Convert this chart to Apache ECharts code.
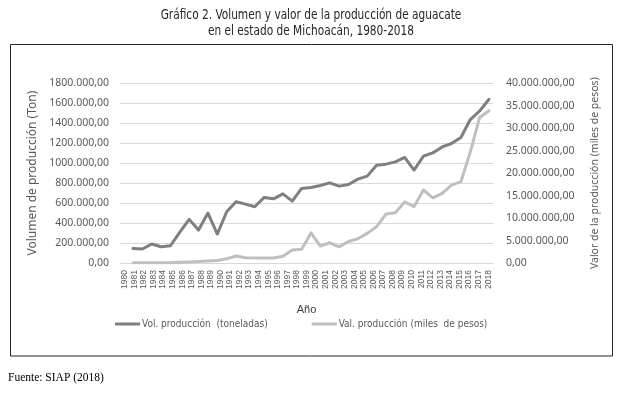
<!DOCTYPE html>
<html><head><meta charset="utf-8">
<script src="https://cdn.jsdelivr.net/npm/echarts@6/dist/echarts.min.js"></script>
<style>html,body{margin:0;padding:0;background:#fff}#c{width:622px;height:393px}</style>
</head><body><div id="c"></div>
<script>
const years = ['1980','1981','1982','1983','1984','1985','1986','1987','1988','1989','1990','1991','1992','1993','1994','1995','1996','1997','1998','1999','2000','2001','2002','2003','2004','2005','2006','2007','2008','2009','2010','2011','2012','2013','2014','2015','2016','2017','2018'];
const volumen = [145000,140000,190000,163000,173000,310000,437000,330000,500000,290000,513000,613000,590000,563000,657000,643000,693000,620000,747000,757000,777000,803000,770000,787000,840000,870000,980000,990000,1013000,1057000,930000,1070000,1103000,1163000,1197000,1257000,1437000,1523000,1640000];
const valor = [40000,40000,50000,60000,80000,150000,250000,350000,450000,550000,950000,1550000,1150000,1100000,1100000,1100000,1500000,2900000,3050000,6700000,3750000,4500000,3600000,4800000,5400000,6600000,8100000,10900000,11200000,13600000,12550000,16250000,14500000,15500000,17350000,18100000,24700000,32400000,33900000];
const leftTicks = ['0,00','200.000,00','400.000,00','600.000,00','800.000,00','1000.000,00','1200.000,00','1400.000,00','1600.000,00','1800.000,00'];
const rightTicks = ['0,00','5.000.000,00','10.000.000,00','15.000.000,00','20.000.000,00','25.000.000,00','30.000.000,00','35.000.000,00','40.000.000,00'];
const seriesNames = ['Vol. producción  (toneladas)','Val. producción (miles  de pesos)'];
const titleLines = ['Gráfico 2. Volumen y valor de la producción de aguacate','en el estado de Michoacán, 1980-2018'];
const source = 'Fuente: SIAP (2018)';

const narrow = "'DejaVu Sans Condensed',sans-serif";
const chart = echarts.init(document.getElementById('c'), null, {renderer:'canvas'});
const leftInt = 200000, rightInt = 5000000;
chart.setOption({
  animation:false,
  backgroundColor:'#fff',
  graphic:[
    {type:'rect', shape:{x:10.5,y:44.5,width:602,height:311.5}, style:{fill:'none',stroke:'#262626',lineWidth:1}, z:0},
    {type:'text', x:311, y:15.5, scaleX:0.84, style:{text:titleLines[0], font:"14px "+narrow, fill:'#262626', textAlign:'center', textVerticalAlign:'middle'}},
    {type:'text', x:311, y:31.5, scaleX:0.84, style:{text:titleLines[1], font:"14px "+narrow, fill:'#262626', textAlign:'center', textVerticalAlign:'middle'}},
    {type:'text', x:8, y:378, style:{text:source, font:"11.5px 'Liberation Serif',serif", fill:'#000', textVerticalAlign:'middle'}}
  ],
  legend:{
    left:115, top:319, padding:0, itemWidth:25, itemHeight:3, itemGap:44, icon:'rect',
    textStyle:{fontFamily:narrow, fontSize:10, color:'#595959', padding:[0,0,0,-3]},
    data:seriesNames
  },
  grid:[
    {left:120, right:129, top:83.3, bottom:130},
    {left:128.3, right:128.3, top:83.3, bottom:130}
  ],
  xAxis:[
    {type:'category', gridIndex:0, data:years, boundaryGap:true,
     axisLine:{show:true, lineStyle:{color:'#d9d9d9'}}, axisTick:{show:false},
     axisLabel:{interval:0, rotate:90, fontSize:8.5, fontFamily:"'Liberation Sans',sans-serif", color:'#595959', margin:7},
     name:'Año', nameLocation:'middle', nameGap:41, nameTextStyle:{fontSize:11, fontFamily:"'Liberation Sans',sans-serif", color:'#404040'}},
    {type:'category', gridIndex:1, data:years, boundaryGap:true, show:false}
  ],
  yAxis:[
    {type:'value', gridIndex:0, position:'left', min:0, max:1800000, interval:leftInt,
     axisLine:{show:false}, axisTick:{show:false},
     splitLine:{lineStyle:{color:'#d9d9d9', width:1}},
     axisLabel:{margin:11, fontSize:10.5, fontFamily:"'Noto Sans',sans-serif", color:'#595959', formatter:v=>leftTicks[Math.round(v/leftInt)]},
     name:'Volumen de producción (Ton)', nameLocation:'middle', nameGap:78, nameRotate:90,
     nameTextStyle:{fontSize:12, fontFamily:"'Noto Sans',sans-serif", color:'#595959'}},
    {type:'value', gridIndex:0, position:'right', min:0, max:40000000, interval:rightInt,
     axisLine:{show:false}, axisTick:{show:false}, splitLine:{show:false},
     axisLabel:{margin:13, fontSize:10.5, fontFamily:"'Noto Sans',sans-serif", color:'#595959', formatter:v=>rightTicks[Math.round(v/rightInt)]},
     name:'Valor de la producción (miles de pesos)', nameLocation:'middle', nameGap:97, nameRotate:90,
     nameTextStyle:{fontSize:10.5, fontFamily:"'Noto Sans',sans-serif", color:'#595959'}},
    {type:'value', gridIndex:1, min:0, max:1800000, show:false, splitLine:{show:false}},
    {type:'value', gridIndex:1, min:0, max:40000000, show:false, splitLine:{show:false}}
  ],
  series:[
    {name:seriesNames[0], type:'line', xAxisIndex:1, yAxisIndex:2, data:volumen, showSymbol:false,
     itemStyle:{color:'#7f7f7f'}, lineStyle:{width:3, color:'#7f7f7f', join:'round', cap:'round'}},
    {name:seriesNames[1], type:'line', xAxisIndex:1, yAxisIndex:3, data:valor, showSymbol:false,
     itemStyle:{color:'#bfbfbf'}, lineStyle:{width:3, color:'#bfbfbf', join:'round', cap:'round'}}
  ]
});
</script></body></html>
